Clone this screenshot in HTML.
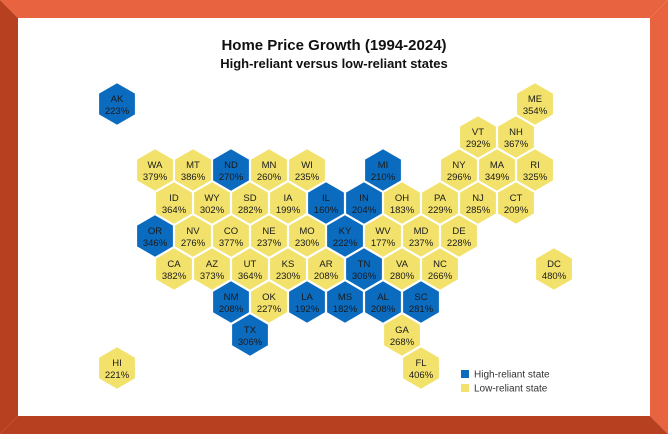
<!DOCTYPE html>
<html><head><meta charset="utf-8"><style>
html,body{margin:0;padding:0;background:#fff;}
svg{display:block;font-family:"Liberation Sans",sans-serif;}
</style></head><body>
<svg width="668" height="434" viewBox="0 0 668 434">
<polygon points="0,0 668,0 650,18 18,18" fill="#E8633F"/>
<polygon points="668,0 668,434 650,416 650,18" fill="#E8633F"/>
<polygon points="0,0 18,18 18,416 0,434" fill="#B6401F"/>
<polygon points="0,434 18,416 650,416 668,434" fill="#B6401F"/>
<rect x="18" y="18" width="632" height="398" fill="#fff"/>
<text x="334" y="50" text-anchor="middle" font-size="15" font-weight="bold" fill="#111">Home Price Growth (1994-2024)</text>
<text x="334" y="68" text-anchor="middle" font-size="13" font-weight="bold" fill="#111">High-reliant versus low-reliant states</text>
<g id="hexes"></g>
<rect x="461" y="370" width="8" height="8" fill="#0B6BBF"/>
<text x="474" y="377.5" font-size="10" fill="#333">High-reliant state</text>
<rect x="461" y="384" width="8" height="8" fill="#F2E16B"/>
<text x="474" y="391.5" font-size="10" fill="#333">Low-reliant state</text>
</svg>
<script>
const states = ["AK","ME","VT","NH","WA","MT","ND","MN","WI","MI","NY","MA","RI","ID","WY","SD","IA","IL","IN","OH","PA","NJ","CT","OR","NV","CO","NE","MO","KY","WV","MD","DE","CA","AZ","UT","KS","AR","TN","VA","NC","DC","NM","OK","LA","MS","AL","SC","TX","GA","FL","HI"];
const growth = [223,354,292,367,379,386,270,260,235,210,296,349,325,364,302,282,199,160,204,183,229,285,209,346,276,377,237,230,222,177,237,228,382,373,364,230,208,306,280,266,480,208,227,192,182,208,281,306,268,406,221];
const highReliant = [1,0,0,0,0,0,1,0,0,1,0,0,0,0,0,0,0,1,1,0,0,0,0,1,0,0,0,0,1,0,0,0,0,0,0,0,0,1,0,0,0,1,0,1,1,1,1,1,0,0,0];
const gridRow = [0,0,1,1,2,2,2,2,2,2,2,2,2,3,3,3,3,3,3,3,3,3,3,4,4,4,4,4,4,4,4,4,5,5,5,5,5,5,5,5,5,6,6,6,6,6,6,7,7,8,8];
const gridCol = [-1,10,8,9,0,1,2,3,4,6,8,9,10,0,1,2,3,4,5,6,7,8,9,0,1,2,3,4,5,6,7,8,0,1,2,3,4,5,6,7,10,2,3,4,5,6,7,2,6,7,-1];
const NS="http://www.w3.org/2000/svg";
const g=document.getElementById('hexes');
function px(r,c){return 155+38*c+(r%2?19:0);}
function py(r){return 104+33*r;}
const R=21.3;
states.forEach((s,i)=>{
  const cx=px(gridRow[i],gridCol[i]), cy=py(gridRow[i]);
  const pts=[];
  for(let k=0;k<6;k++){const a=Math.PI/180*(60*k-90);pts.push((cx+R*Math.cos(a)).toFixed(1)+","+(cy+R*Math.sin(a)).toFixed(1));}
  const p=document.createElementNS(NS,'polygon');
  p.setAttribute('points',pts.join(' '));
  p.setAttribute('fill',highReliant[i]?'#0B6BBF':'#F2E16B');
  p.setAttribute('stroke','#fff');p.setAttribute('stroke-width','1');
  
  
  g.appendChild(p);
  const t1=document.createElementNS(NS,'text');
  t1.setAttribute('x',cx);t1.setAttribute('y',cy-2);t1.setAttribute('text-anchor','middle');
  t1.setAttribute('font-size','9.5');t1.setAttribute('fill','#1a1a1a');t1.textContent=s;
  
  
  g.appendChild(t1);
  const t2=document.createElementNS(NS,'text');
  t2.setAttribute('x',cx);t2.setAttribute('y',cy+10);t2.setAttribute('text-anchor','middle');
  t2.setAttribute('font-size','9.5');t2.setAttribute('fill','#1a1a1a');t2.textContent=growth[i]+'%';
  
  
  g.appendChild(t2);
});
</script>
</body></html>
